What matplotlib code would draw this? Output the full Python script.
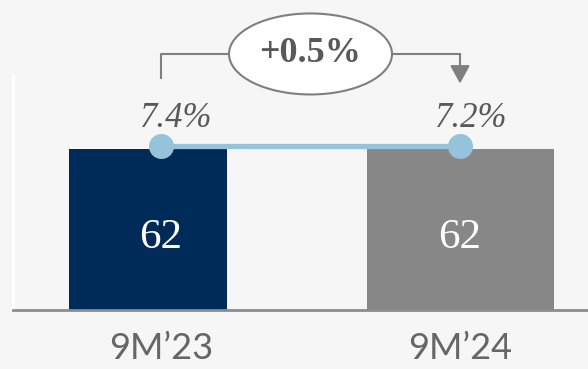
import matplotlib
matplotlib.use("Agg")
import matplotlib.pyplot as plt
from matplotlib.patches import Ellipse

periods = ["9M\u201923", "9M\u201924"]
values = [62, 62]
margins = ["7.4%", "7.2%"]
change = "+0.5%"

navy = "#002a57"
grey_bar = "#878787"
line_blue = "#95c3dc"
text_grey = "#595959"
bg = "#f6f6f6"

fig = plt.figure(figsize=(5.88, 3.69), dpi=100, facecolor=bg)
# axes from x=13px to right edge, baseline at y=310px
ax = fig.add_axes([13 / 588, 59 / 369, 575 / 588, 310 / 369])
ax.set_facecolor(bg)

x = [0, 1]
ax.set_xlim(-148 / 299, 427 / 299)
ax.set_ylim(0, 62 * 310 / 161)

# bars are slightly off-centre in the original
lefts = [x[0] - 92 / 299, x[1] - 93 / 299]
widths = [158 / 299, 187 / 299]
ax.bar(lefts, values, width=widths, align="edge", color=[navy, grey_bar], zorder=2)

for xi, v in zip(x, values):
    ax.text(xi, v * 0.45, str(v), ha="center", va="center", color="white",
            fontsize=31, family="Liberation Serif", zorder=4)

# margin line
ax.plot(x, [v + 1.2 for v in values], color=line_blue, lw=3.8, marker="o",
        markersize=17, zorder=3, solid_capstyle="butt")

for xi, v, m, dx in zip(x, values, margins, [11, 8]):
    ax.annotate(m, (xi, v), xytext=(dx, 22), textcoords="offset points",
                ha="center", va="center", fontsize=25, style="italic",
                family="Liberation Serif", color=text_grey, zorder=4)

# bracket with change bubble
ytop = 98.6
ex, ew, eh = 0.5, 163 / 299, 31.2
bc = "#7f7f7f"
ax.plot([0, 0, ex - ew / 2], [89.3, ytop, ytop], color=bc, lw=1.5, clip_on=False)
ax.plot([ex + ew / 2, 1], [ytop, ytop], color=bc, lw=1.5, clip_on=False)
ax.annotate("", xy=(1, 87.2), xytext=(1, ytop),
            arrowprops=dict(arrowstyle="-|>,head_length=0.55,head_width=0.3",
                            color=bc, lw=1.5, mutation_scale=20,
                            shrinkA=0, shrinkB=0))
ax.add_patch(Ellipse((ex, ytop), ew, eh, facecolor="white", edgecolor=bc,
                     lw=1.5, clip_on=False, zorder=5))
ax.text(ex, ytop, change, ha="center", va="center", fontsize=26,
        fontweight="bold", family="Liberation Serif", color=text_grey, zorder=6)

# axes styling
for s in ["top", "right"]:
    ax.spines[s].set_visible(False)
ax.spines["left"].set_color("white")
ax.spines["left"].set_linewidth(2)
ax.spines["left"].set_bounds(0, 62 * 234 / 161)
ax.spines["bottom"].set_color("#8c8c8c")
ax.spines["bottom"].set_linewidth(2)
ax.set_yticks([])
ax.set_xticks(x)
ax.set_xticklabels(periods, fontsize=26, family="Lato", fontweight="normal",
                   color="#666666")
ax.tick_params(axis="x", length=0, pad=16)

fig.savefig("out.png", dpi=100, facecolor=bg)
